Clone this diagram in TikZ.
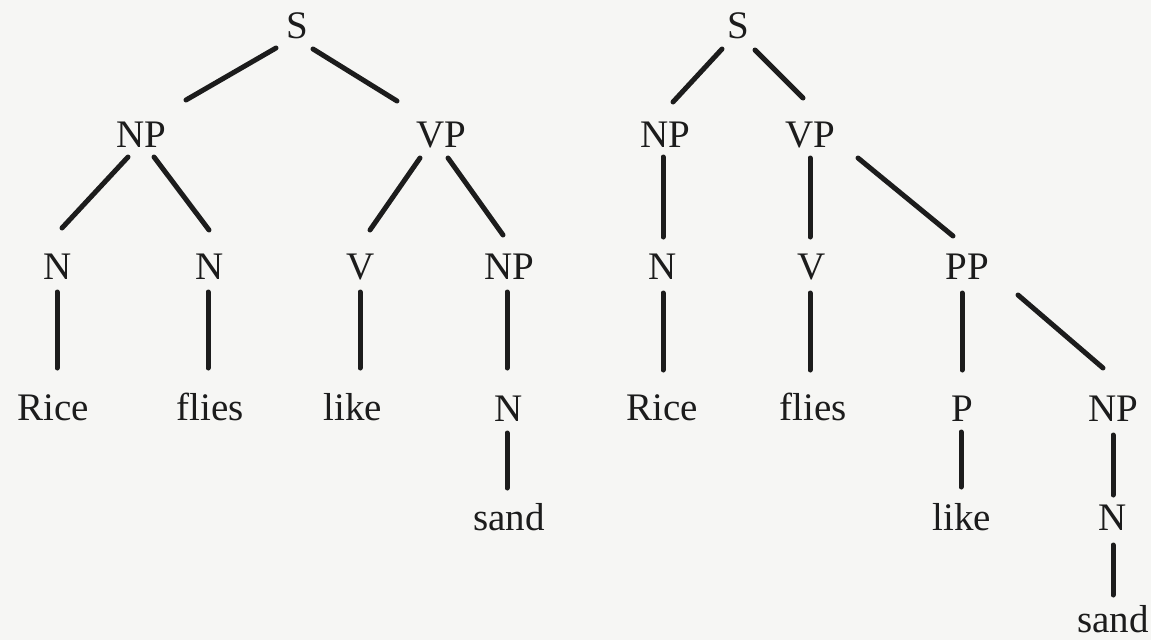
\documentclass[tikz,border=0pt]{standalone}
\usepackage{fontspec}
\setmainfont{Liberation Serif}
\usetikzlibrary{calc}
\definecolor{paper}{RGB}{246,246,244}
\definecolor{ink}{RGB}{28,28,28}
\tikzset{
  lab/.style={anchor=base, inner sep=0pt, text=ink, font=\fontsize{39}{47}\selectfont},
  edge/.style={draw=ink, line width=5pt, line cap=round}
}
\begin{document}
\begin{tikzpicture}[x=1pt, y=-1pt]
\fill[paper] (0,0) rectangle (1151,640);
\useasboundingbox (0,0) rectangle (1151,640);
% left tree
\node[lab] (lS) at (297,38) {S};
\node[lab] (lNP) at (141,147) {NP};
\node[lab] (lVP) at (441,147) {VP};
\node[lab] (lN1) at (58,279) {N};
\node[lab] (lN2) at (210,279) {N};
\node[lab] (lV) at (361,279) {V};
\node[lab] (lNP2) at (509,279) {NP};
\node[lab] (lRice) at (53,420) {Rice};
\node[lab] (lflies) at (210,420) {flies};
\node[lab] (llike) at (353,420) {like};
\node[lab] (lN3) at (509,421) {N};
\node[lab] (lsand) at (509,530) {sand};
% right tree
\node[lab] (rS) at (738,38) {S};
\node[lab] (rNP) at (665,147) {NP};
\node[lab] (rVP) at (810,147) {VP};
\node[lab] (rN) at (663,279) {N};
\node[lab] (rV) at (812,279) {V};
\node[lab] (rPP) at (967,279) {PP};
\node[lab] (rRice) at (662,420) {Rice};
\node[lab] (rflies) at (813,420) {flies};
\node[lab] (rP) at (962,421) {P};
\node[lab] (rNP2) at (1113,421) {NP};
\node[lab] (rlike) at (962,530) {like};
\node[lab] (rN2) at (1113,530) {N};
\node[lab] (rsand) at (1113,632) {sand};
% left edges
\draw[edge] ($(lS.base)+(-21,10)$) -- ($(lNP.base)+(45,-47)$);
\draw[edge] ($(lS.base)+(16,11)$) -- ($(lVP.base)+(-44,-46)$);
\draw[edge] ($(lNP.base)+(-13,10)$) -- ($(lN1.base)+(4,-51)$);
\draw[edge] ($(lNP.base)+(13,10)$) -- ($(lN2.base)+(-1,-49)$);
\draw[edge] ($(lVP.base)+(-21,11)$) -- ($(lV.base)+(9,-49)$);
\draw[edge] ($(lVP.base)+(7,11)$) -- ($(lNP2.base)+(-6,-44)$);
\draw[edge] ($(lN1.base)+(-1,13)$) -- ($(lRice.base)+(4,-52)$);
\draw[edge] ($(lN2.base)+(-2,13)$) -- ($(lflies.base)+(-2,-52)$);
\draw[edge] ($(lV.base)+(-1,13)$) -- ($(llike.base)+(7,-52)$);
\draw[edge] ($(lNP2.base)+(-2,13)$) -- ($(lN3.base)+(-2,-53)$);
\draw[edge] ($(lN3.base)+(-2,12)$) -- ($(lsand.base)+(-2,-42)$);
% right edges
\draw[edge] ($(rS.base)+(-16,11)$) -- ($(rNP.base)+(8,-45)$);
\draw[edge] ($(rS.base)+(17,12)$) -- ($(rVP.base)+(-7,-49)$);
\draw[edge] ($(rNP.base)+(-2,10)$) -- ($(rN.base)+(0,-42)$);
\draw[edge] ($(rVP.base)+(0,11)$) -- ($(rV.base)+(-2,-42)$);
\draw[edge] ($(rVP.base)+(48,11)$) -- ($(rPP.base)+(-14,-43)$);
\draw[edge] ($(rN.base)+(0,14)$) -- ($(rRice.base)+(1,-50)$);
\draw[edge] ($(rV.base)+(-2,14)$) -- ($(rflies.base)+(-3,-50)$);
\draw[edge] ($(rPP.base)+(-5,14)$) -- ($(rP.base)+(0,-51)$);
\draw[edge] ($(rPP.base)+(51,16)$) -- ($(rNP2.base)+(-10,-53)$);
\draw[edge] ($(rP.base)+(-1,11)$) -- ($(rlike.base)+(-1,-43)$);
\draw[edge] ($(rNP2.base)+(0,14)$) -- ($(rN2.base)+(0,-35)$);
\draw[edge] ($(rN2.base)+(0,15)$) -- ($(rsand.base)+(0,-37)$);
\end{tikzpicture}
\end{document}
